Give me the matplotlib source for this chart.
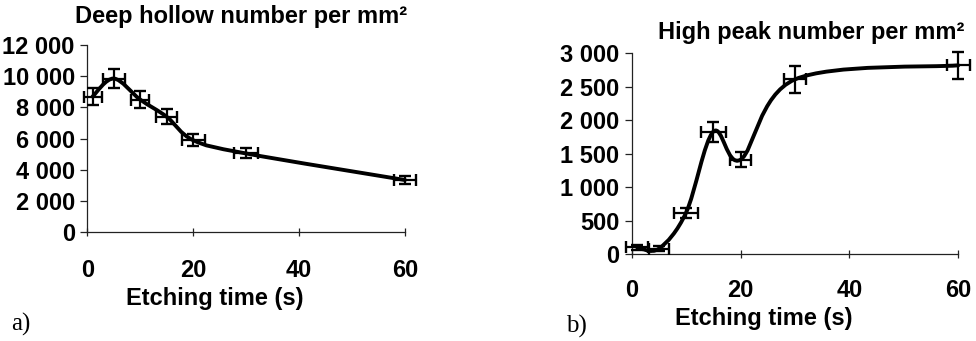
import matplotlib
matplotlib.use("Agg")
import matplotlib.pyplot as plt
from matplotlib.path import Path
from matplotlib.patches import PathPatch

# ---- data ----
a_time = [1, 5, 10, 15, 20, 30, 60]
a_value = [8700, 9850, 8500, 7400, 5900, 5050, 3350]
a_yerr = [565, 585, 535, 470, 375, 320, 235]
a_xerr = [1.7, 2.1, 1.7, 2.0, 2.2, 2.3, 2.0]

b_time = [1, 5, 10, 15, 20, 30, 60]
b_value = [100, 80, 620, 1830, 1410, 2610, 2820]
b_yerr = [40, 40, 75, 150, 110, 200, 200]
b_xerr = [2.0, 1.9, 2.2, 2.3, 1.9, 2.1, 2.1]

x_ticks = [0, 20, 40, 60]
x_ticklabels = ["0", "20", "40", "60"]
a_yticks = [0, 2000, 4000, 6000, 8000, 10000, 12000]
a_yticklabels = ["0", "2 000", "4 000", "6 000", "8 000", "10 000", "12 000"]
b_yticks = [0, 500, 1000, 1500, 2000, 2500, 3000]
b_yticklabels = ["0", "500", "1 000", "1 500", "2 000", "2 500", "3 000"]

SANS = "Liberation Sans"
SERIF = "Liberation Serif"
FS = 17


def smooth_path(xs, ys):
    """Excel-like smoothed line: cubic Bezier segments through the data points."""
    pts = list(zip(xs, ys))
    verts = [pts[0]]
    codes = [Path.MOVETO]
    n = len(pts)
    for i in range(n - 1):
        p0 = pts[i - 1] if i > 0 else pts[i]
        p1 = pts[i]
        p2 = pts[i + 1]
        p3 = pts[i + 2] if i + 2 < n else pts[i + 1]
        c1 = (p1[0] + (p2[0] - p0[0]) / 6.0, p1[1] + (p2[1] - p0[1]) / 6.0)
        c2 = (p2[0] - (p3[0] - p1[0]) / 6.0, p2[1] - (p3[1] - p1[1]) / 6.0)
        verts += [c1, c2, p2]
        codes += [Path.CURVE4] * 3
    return Path(verts, codes)


W, H = 976, 341
fig = plt.figure(figsize=(W / 100, H / 100), dpi=100)


def px_rect(x0, x1, ytop, ybot):
    return [x0 / W, 1 - ybot / H, (x1 - x0) / W, (ybot - ytop) / H]


def style(ax, xlim, ylim, yticks, yticklabels, xpad):
    ax.set_xlim(*xlim)
    ax.set_ylim(*ylim)
    for s in ("top", "right"):
        ax.spines[s].set_visible(False)
    for s in ("left", "bottom"):
        ax.spines[s].set_color("#222222")
        ax.spines[s].set_linewidth(0.9)
    ax.set_xticks(x_ticks)
    ax.set_xticklabels(x_ticklabels)
    ax.set_yticks(yticks)
    ax.set_yticklabels(yticklabels)
    ax.tick_params(axis="y", direction="out", length=5, width=0.9, color="#222222", pad=4)
    ax.tick_params(axis="x", direction="inout", length=6, width=0.9, color="#222222", pad=xpad)
    for lab in ax.get_xticklabels() + ax.get_yticklabels():
        lab.set_fontfamily(SANS)
        lab.set_fontweight("bold")
        lab.set_fontsize(FS)
    ax.set_facecolor("none")


def draw(ax, xs, ys, xerr, yerr):
    ax.add_patch(PathPatch(smooth_path(xs, ys), facecolor="none", edgecolor="black",
                           lw=2.8, capstyle="round", joinstyle="round",
                           transform=ax.transData, clip_on=False, zorder=3))
    ax.errorbar(xs, ys, yerr=yerr, xerr=xerr, fmt="none", ecolor="black",
                elinewidth=1.6, capsize=4.2, capthick=1.7, clip_on=False, zorder=4)


# ---- panel a ----
axa = fig.add_axes(px_rect(87.3, 405, 45, 232.3))
style(axa, (0, 60), (0, 12000), a_yticks, a_yticklabels, 16)
draw(axa, a_time, a_value, a_xerr, a_yerr)

# ---- panel b ----
axb = fig.add_axes(px_rect(631.7, 958.3, 53.3, 254))
style(axb, (0, 60), (0, 3000), b_yticks, b_yticklabels, 15)
draw(axb, b_time, b_value, b_xerr, b_yerr)

# ---- texts ----
def ftext(x, y, s, **kw):
    fig.text(x / W, 1 - y / H, s, **kw)

ftext(241, 22.5, "Deep hollow number per mm²", ha="center", va="baseline",
      fontfamily=SANS, fontweight="bold", fontsize=FS)
ftext(811, 39.5, "High peak number per mm²", ha="center", va="baseline",
      fontfamily=SANS, fontweight="bold", fontsize=FS)
ftext(215, 305, "Etching time (s)", ha="center", va="baseline",
      fontfamily=SANS, fontweight="bold", fontsize=FS)
ftext(764, 325, "Etching time (s)", ha="center", va="baseline",
      fontfamily=SANS, fontweight="bold", fontsize=FS)
ftext(11, 331, "a)", ha="left", va="baseline", fontfamily=SERIF, fontsize=FS + 1)
ftext(566, 333, "b)", ha="left", va="baseline", fontfamily=SERIF, fontsize=FS + 1)

fig.savefig("out.png", dpi=100, facecolor="white")
